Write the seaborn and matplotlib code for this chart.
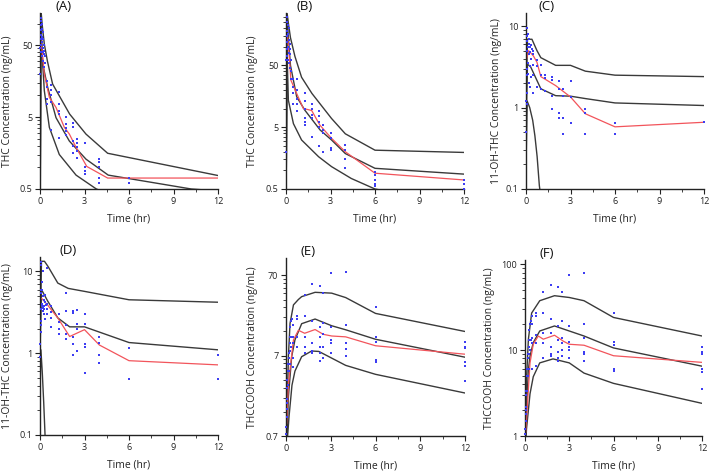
# VPC-style panels: THC, 11-OH-THC and THCCOOH concentrations over time
import pandas as pd
import seaborn as sns
import matplotlib.pyplot as plt

# ---- Panel A : THC ----
a_up_t = [0.02, 0.07, 0.15, 0.29, 0.5, 0.85, 2, 3.1, 4.56, 12]
a_up_c = [1, 150, 95, 52, 30, 14.4, 5.5, 2.9, 1.57, 0.77]
a_md_t = [0.02, 0.06, 0.18, 0.52, 1.08, 1.98, 3.1, 4.6, 10.2, 12]
a_md_c = [0.6, 110, 27.5, 12.9, 4.9, 2.32, 1.3, 0.78, 0.5, 0.47]
a_lo_t = [0.02, 0.05, 0.13, 0.29, 0.63, 1.3, 2.43, 3.8, 4.5]
a_lo_c = [0.5, 80, 42, 11.7, 3.6, 1.51, 0.78, 0.5, 0.44]
a_obs_med_t = [0.05, 0.15, 0.29, 0.63, 1.08, 1.64, 1.98, 2.43, 3.15, 4.56, 6, 12]
a_obs_med_c = [60, 40, 19.8, 9.4, 6.8, 3.6, 2.9, 1.9, 1.03, 0.71, 0.71, 0.71]
a_obs_t = [0.02, 0.03, 0.05, 0.05, 0.07, 0.08, 0.08, 0.1, 0.1, 0.1, 0.12, 0.12, 0.15,
           0.15, 0.15, 0.17, 0.17, 0.2, 0.2, 0.2, 0.25, 0.25, 0.25, 0.3, 0.33, 0.33,
           0.5, 0.5, 0.5, 0.5, 0.75, 0.75, 0.75, 0.75, 0.75,
           1.25, 1.25, 1.25, 1.25, 1.25, 1.75, 1.75, 1.75, 1.75, 1.75,
           2.25, 2.25, 2.25, 2.25, 2.25, 2.5, 2.5, 2.5, 2.5, 2.5,
           3, 3, 3, 3, 4, 4, 4, 4, 4, 6, 6]
a_obs_c = [20, 45, 60, 95, 110, 80, 40, 120, 70, 50, 100, 55, 85,
           65, 35, 75, 45, 60, 40, 30, 50, 38, 25, 42, 35, 28,
           16, 13, 9, 7.5, 14, 12, 10, 8, 3.3,
           11, 7.5, 6, 5.5, 2.6, 5, 4, 3.5, 3.2, 2.8,
           4.2, 3.6, 2.3, 2.0, 1.6, 2.5, 2.2, 1.9, 1.7, 1.35,
           2.2, 1.0, 0.9, 0.8, 1.3, 1.2, 1.0, 0.7, 0.6, 0.7, 0.6]

# ---- Panel B : THC ----
b_up_t = [0.02, 0.08, 0.15, 0.3, 0.6, 1.05, 1.75, 3.07, 4, 6, 12]
b_up_c = [1, 340, 250, 140, 70, 32, 17.5, 6.9, 3.9, 2.12, 1.95]
b_md_t = [0.02, 0.08, 0.15, 0.3, 0.72, 1.27, 2.3, 3.07, 4, 6, 12]
b_md_c = [1, 300, 150, 50, 15.5, 9.4, 4.5, 3.1, 1.87, 1.08, 0.87]
b_lo_t = [0.02, 0.06, 0.16, 0.5, 1.05, 2.2, 3.07, 4.4, 6, 7]
b_lo_c = [1, 100, 13.6, 5.7, 3.1, 1.66, 1.15, 0.74, 0.5, 0.45]
b_obs_med_t = [0.1, 0.2, 0.33, 0.72, 1.17, 1.73, 2.28, 3.07, 4, 6, 12]
b_obs_med_c = [150, 80, 28.7, 17.5, 10, 9.3, 5.4, 3.3, 2.0, 0.9, 0.7]
b_obs_t = [0.02, 0.03, 0.05, 0.05, 0.07, 0.08, 0.1, 0.1, 0.1, 0.12, 0.12, 0.15,
           0.15, 0.17, 0.17, 0.2, 0.2, 0.25, 0.25, 0.25, 0.3, 0.33, 0.33, 0.33,
           0.5, 0.5, 0.5, 0.5, 0.75, 0.75, 0.75, 0.75, 0.75,
           1.25, 1.25, 1.25, 1.25, 1.25, 1.25, 1.75, 1.75, 1.75, 1.75, 1.75,
           2.25, 2.25, 2.25, 2.25, 2.25, 2.5, 2.5, 2.5, 2.5,
           3, 3, 3, 3, 4, 4, 4, 4, 6, 6, 6, 6, 6, 12, 12, 12]
b_obs_c = [2, 60, 150, 90, 250, 120, 300, 180, 70, 220, 100, 160,
           60, 200, 80, 130, 55, 110, 75, 45, 90, 60, 40, 30,
           30, 22, 18, 12, 30, 20, 14, 12, 9,
           18, 13, 10, 7, 6, 5.5, 12, 10, 8, 7, 3.5,
           9, 7.5, 6, 5, 2.5, 5.5, 4.5, 4, 2,
           4, 3.3, 2.3, 2.1, 2.6, 2.1, 1.5, 1.1, 0.95, 0.85, 0.7, 0.6, 0.55, 0.7, 0.6, 0.5]

# ---- Panel C : 11-OH-THC ----
c_up_t = [0.02, 0.1, 0.4, 0.74, 1.0, 2, 3, 4, 6, 12]
c_up_c = [1.5, 6.9, 6.9, 5.0, 4.1, 3.3, 3.3, 2.8, 2.5, 2.4]
c_md_t = [0.02, 0.1, 0.3, 0.74, 1.0, 2, 3, 4, 6, 12]
c_md_c = [0.8, 3.4, 3.2, 2.15, 1.7, 1.4, 1.38, 1.29, 1.14, 1.06]
c_lo_t = [0.02, 0.08, 0.25, 0.45, 0.6, 0.75, 0.9, 1.0]
c_lo_c = [0.3, 1.2, 1.0, 0.7, 0.45, 0.25, 0.11, 0.08]
c_obs_med_t = [0.05, 0.18, 0.5, 0.74, 1.0, 2, 3, 4, 6, 12]
c_obs_med_c = [4.0, 5.0, 4.3, 3.6, 2.4, 1.86, 1.35, 0.84, 0.58, 0.66]
c_obs_t = [0.02, 0.03, 0.05, 0.05, 0.07, 0.08, 0.08, 0.1, 0.1, 0.1, 0.12, 0.12, 0.15,
           0.15, 0.17, 0.17, 0.2, 0.2, 0.25, 0.25, 0.25, 0.3, 0.33, 0.33, 0.33, 0.4,
           0.5, 0.5, 0.5, 0.5, 0.5, 0.75, 0.75, 0.75, 1.0, 1.0, 1.0, 1.25, 1.25, 1.25,
           1.75, 1.75, 1.75, 1.75, 2.25, 2.25, 2.25, 2.25, 2.5, 2.5, 2.5, 2.5,
           3, 3, 3, 4, 4, 4, 6, 6, 12]
c_obs_c = [0.5, 1.2, 2.5, 9.5, 1.5, 7.5, 3.0, 6.5, 5.0, 1.1, 8.0, 2.6, 5.5,
           3.5, 7.0, 2.0, 6.0, 4.5, 5.5, 3.2, 1.8, 4.8, 5.8, 4.0, 2.4, 5.2,
           5, 4.5, 3.3, 2.5, 1.5, 3.8, 3.2, 1.8, 3.3, 2.5, 1.7, 2.5, 2.3, 1.6,
           2.4, 2.2, 1.4, 0.95, 2.1, 1.7, 0.85, 0.75, 1.7, 1.4, 0.75, 0.48,
           2.1, 1.35, 0.65, 0.95, 0.85, 0.48, 0.65, 0.48, 0.66]

# ---- Panel D : 11-OH-THC ----
d_up_t = [0.02, 0.1, 0.3, 0.54, 1.2, 1.9, 3, 6, 12]
d_up_c = [2, 13.3, 13.3, 11.5, 7.2, 6.2, 5.7, 4.5, 4.2]
d_md_t = [0.02, 0.1, 0.5, 1.2, 2, 3, 6, 12]
d_md_c = [1.5, 6, 4.4, 2.7, 2.1, 2.1, 1.35, 1.1]
d_lo_t = [0.02, 0.06, 0.15, 0.25, 0.35]
d_lo_c = [0.5, 1.1, 0.6, 0.25, 0.09]
d_obs_med_t = [0.1, 0.5, 1.2, 2, 3, 4, 6, 12]
d_obs_med_c = [4.7, 3.9, 2.7, 1.6, 1.94, 1.26, 0.81, 0.72]
d_obs_t = [0.02, 0.03, 0.05, 0.05, 0.07, 0.08, 0.08, 0.1, 0.1, 0.1, 0.12, 0.12, 0.15,
           0.15, 0.17, 0.17, 0.2, 0.2, 0.25, 0.25, 0.25, 0.3, 0.33, 0.33, 0.33, 0.4,
           0.5, 0.5, 0.5, 0.5, 0.75, 0.75, 0.75, 0.75, 1.25, 1.25, 1.25, 1.25,
           1.75, 1.75, 1.75, 1.75, 1.75, 2.25, 2.25, 2.25, 2.25, 2.25,
           2.5, 2.5, 2.5, 2.5, 3, 3, 3, 3, 3, 4, 4, 4, 4, 6, 6, 12, 12]
d_obs_c = [0.9, 1.3, 2.5, 13, 1.8, 6, 3.5, 12, 5.5, 2.2, 7.5, 3.8, 6,
           4, 3.6, 10, 3.3, 5, 3.8, 3, 4.5, 3.5, 5.2, 2.6, 4.2, 3.9,
           11, 4, 3.5, 3, 3.8, 3.2, 2.7, 2.1, 3.0, 2.4, 2.0, 1.7,
           5.5, 3.3, 2.2, 1.7, 1.5, 3.3, 3.1, 1.6, 1.3, 0.95,
           3.4, 2.3, 2.0, 1.05, 3.0, 2.3, 1.3, 1.2, 0.57, 1.6, 1.35, 0.95, 0.75,
           1.15, 0.48, 0.95, 0.48]

# ---- Panel E : THCCOOH ----
e_up_t = [0.02, 0.16, 0.27, 0.5, 0.83, 1.05, 1.95, 3.06, 4, 6, 12]
e_up_c = [0.5, 6.8, 17.6, 30, 35, 38, 43, 42, 37, 23.5, 14]
e_md_t = [0.02, 0.16, 0.38, 0.6, 1.05, 1.95, 3.06, 4, 6, 12]
e_md_c = [0.4, 2.15, 6.8, 11, 17.5, 20, 16.5, 14.7, 11.2, 6.7]
e_lo_t = [0.05, 0.2, 0.4, 0.6, 1.05, 1.72, 2.2, 4, 6, 12]
e_lo_c = [0.5, 1.2, 3.0, 4.5, 6.8, 8.0, 7.9, 5.3, 4.1, 2.4]
e_obs_med_t = [0.05, 0.16, 0.5, 0.83, 1.25, 1.95, 2.5, 3.06, 4, 6, 12]
e_obs_med_c = [1.0, 3.1, 11, 14.5, 13.3, 14.8, 12.9, 12.3, 12.0, 9.3, 7.3]
e_obs_t = [0.02, 0.03, 0.05, 0.05, 0.07, 0.08, 0.1, 0.1, 0.12, 0.15, 0.15, 0.17,
           0.2, 0.2, 0.25, 0.25, 0.25, 0.3, 0.3, 0.33, 0.33, 0.4, 0.4,
           0.5, 0.5, 0.5, 0.5, 0.5, 0.75, 0.75, 0.75, 0.75,
           1.25, 1.25, 1.25, 1.25, 1.25, 1.75, 1.75, 1.75, 1.75, 1.75,
           2.25, 2.25, 2.25, 2.25, 2.25, 2.25, 2.5, 2.5, 2.5, 2.5, 2.5,
           3, 3, 3, 3, 3, 4, 4, 4, 4, 4, 6, 6, 6, 6, 6,
           12, 12, 12, 12, 12, 12]
e_obs_c = [0.75, 0.9, 1.2, 2.0, 1.5, 2.8, 3.5, 1.8, 4.5, 5.5, 3.0, 6.5,
           7.5, 4.5, 12, 8, 5.5, 16, 10, 19, 9, 20, 12,
           17, 12, 10, 6.5, 5, 22, 20, 12, 9,
           40, 22, 12, 9, 7.5, 55, 19, 10, 8, 7.5,
           52, 16, 12, 9, 7.5, 6, 42, 18, 13, 9, 6.5,
           75, 16, 11, 10, 7.5, 78, 17, 10, 8.5, 7.0, 28, 12, 10.5, 6.1, 5.8,
           10.5, 9.1, 8.7, 5.9, 5.2, 3.4]

# ---- Panel F : THCCOOH ----
f_up_t = [0.02, 0.1, 0.23, 0.45, 0.68, 1.0, 2, 3, 4, 6, 12]
f_up_c = [0.8, 4.5, 13.4, 27, 31, 37.6, 43, 41, 37.6, 24, 14.6]
f_md_t = [0.02, 0.1, 0.23, 0.34, 0.56, 1.0, 2, 3, 4, 6, 12]
f_md_c = [0.8, 2, 5.9, 8.5, 12.2, 16.7, 19.1, 16.7, 14.6, 10.6, 6.5]
f_lo_t = [0.05, 0.1, 0.34, 0.56, 1.0, 1.9, 3, 4, 6, 12]
f_lo_c = [0.8, 1.2, 3.1, 4.9, 7.1, 7.9, 7.1, 5.4, 4.1, 2.4]
f_obs_med_t = [0.05, 0.34, 0.56, 0.9, 1.24, 2, 2.6, 3, 4, 6, 12]
f_obs_med_c = [1.1, 7.1, 11.7, 14.6, 13.4, 14.9, 12.7, 11.7, 11.4, 8.6, 7.2]
f_obs_t = [0.02, 0.03, 0.05, 0.05, 0.07, 0.08, 0.1, 0.1, 0.12, 0.15, 0.15, 0.17,
           0.2, 0.2, 0.25, 0.25, 0.25, 0.3, 0.3, 0.33, 0.33, 0.4, 0.4,
           0.5, 0.5, 0.5, 0.5, 0.5, 0.75, 0.75, 0.75, 0.75, 0.75,
           1.25, 1.25, 1.25, 1.25, 1.25, 1.75, 1.75, 1.75, 1.75, 1.75, 1.75,
           2.25, 2.25, 2.25, 2.25, 2.25, 2.25, 2.5, 2.5, 2.5, 2.5, 2.5, 2.5,
           3, 3, 3, 3, 3, 3, 4, 4, 4, 4, 4, 4, 6, 6, 6, 6, 6,
           12, 12, 12, 12, 12, 12]
f_obs_c = [1.05, 1.2, 1.5, 2.2, 1.8, 3.0, 3.3, 2.0, 5, 6, 3.3, 8,
           9, 5, 13, 9, 6, 17, 11, 20, 10, 22, 13,
           25, 20, 14, 12, 6, 27, 25, 15, 12, 6.5,
           48, 27, 16, 12, 8, 58, 23, 16, 11, 9, 8.5,
           55, 19, 13, 9.5, 8, 7.5, 47, 22, 14, 12, 10, 8.5,
           74, 19, 12.5, 11, 10, 8, 78, 20, 14, 9.5, 9, 7.5, 27, 12.5, 11.5, 6, 5.7,
           11, 9.5, 9, 6, 5.5, 3.5]

panel_names = ["(A)", "(B)", "(C)", "(D)", "(E)", "(F)"]
y_labels = ["THC Concentration (ng/mL)", "THC Concentration (ng/mL)",
            "11-OH-THC Concentration (ng/mL)", "11-OH-THC Concentration (ng/mL)",
            "THCCOOH Concentration (ng/mL)", "THCCOOH Concentration (ng/mL)"]
y_major = [[0.5, 5, 50], [0.5, 5, 50], [0.1, 1, 10], [0.1, 1, 10], [0.7, 7, 70], [1, 10, 100]]
y_tick_text = [["0.5", "5", "50"], ["0.5", "5", "50"], ["0.1", "1", "10"],
               ["0.1", "1", "10"], ["0.7", "7", "70"], ["1", "10", "100"]]
y_limits = [(0.5, 140), (0.5, 350), (0.1, 14.5), (0.1, 15), (0.7, 115), (1, 112)]
x_ticks = [0, 3, 6, 9, 12]

panels = [
    (a_up_t, a_up_c, a_md_t, a_md_c, a_lo_t, a_lo_c, a_obs_med_t, a_obs_med_c, a_obs_t, a_obs_c),
    (b_up_t, b_up_c, b_md_t, b_md_c, b_lo_t, b_lo_c, b_obs_med_t, b_obs_med_c, b_obs_t, b_obs_c),
    (c_up_t, c_up_c, c_md_t, c_md_c, c_lo_t, c_lo_c, c_obs_med_t, c_obs_med_c, c_obs_t, c_obs_c),
    (d_up_t, d_up_c, d_md_t, d_md_c, d_lo_t, d_lo_c, d_obs_med_t, d_obs_med_c, d_obs_t, d_obs_c),
    (e_up_t, e_up_c, e_md_t, e_md_c, e_lo_t, e_lo_c, e_obs_med_t, e_obs_med_c, e_obs_t, e_obs_c),
    (f_up_t, f_up_c, f_md_t, f_md_c, f_lo_t, f_lo_c, f_obs_med_t, f_obs_med_c, f_obs_t, f_obs_c),
]

# axes boxes in pixels (left, top, right, bottom) of a 709x472 canvas
boxes = [(40, 13, 218, 189), (286, 13, 464, 189), (526, 13, 704, 189),
         (40, 257, 218, 435), (286, 258, 465, 436), (525, 260, 702, 436)]
ylabel_x = [-0.152, -0.157, -0.135, -0.152, -0.157, -0.169]
title_x = [0.13, 0.107, 0.118, 0.16, 0.124, 0.124]

sns.set_theme(style="ticks")
plt.rcParams['font.family'] = ['Open Sans', 'DejaVu Sans']

W, H = 709, 472
fig = plt.figure(figsize=(W / 100, H / 100), dpi=100)

for i, p in enumerate(panels):
    up_t, up_c, md_t, md_c, lo_t, lo_c, om_t, om_c, ob_t, ob_c = p
    l, t, r, b = boxes[i]
    ax = fig.add_axes([l / W, 1 - b / H, (r - l) / W, (b - t) / H])

    lines = pd.concat([
        pd.DataFrame({"time": up_t, "conc": up_c, "line": "p95"}),
        pd.DataFrame({"time": md_t, "conc": md_c, "line": "p50"}),
        pd.DataFrame({"time": lo_t, "conc": lo_c, "line": "p05"}),
    ])
    sns.lineplot(data=lines, x="time", y="conc", units="line", estimator=None,
                 color="#3a3a3a", linewidth=1.0, sort=False, ax=ax)
    sns.lineplot(x=om_t, y=om_c, color="#f2545b", linewidth=0.9, ax=ax)
    sns.scatterplot(x=ob_t, y=ob_c, color="#3d3df2", marker="s", s=4,
                    linewidth=0, clip_on=False, zorder=3, ax=ax)

    ax.set_yscale("log")
    ax.set_xlim(0, 12)
    ax.set_ylim(*y_limits[i])
    ax.set_xticks(x_ticks)
    ax.set_xticks([1.5, 4.5, 7.5, 10.5], minor=True)
    ax.set_yticks(y_major[i], y_tick_text[i])
    minors = [m * k for m in y_major[i] for k in range(2, 10)]
    ax.set_yticks([v for v in minors if v < y_limits[i][1]], minor=True)
    ax.yaxis.set_minor_formatter(plt.NullFormatter())

    ax.tick_params(which="major", length=3.5, width=0.8, labelsize=6.5, pad=2, colors="#222222")
    ax.tick_params(which="minor", length=2, width=0.6, colors="#222222")
    for s in ["left", "bottom"]:
        ax.spines[s].set_color("#222222")
        ax.spines[s].set_linewidth(1.0)
    sns.despine(ax=ax)

    ax.set_xlabel("Time (hr)", fontsize=7.5, color="#222222")
    ax.set_ylabel(y_labels[i], fontsize=7.5, color="#222222")
    ax.xaxis.set_label_coords(0.5, -0.14)
    ax.yaxis.set_label_coords(ylabel_x[i], 0.5)
    ax.text(title_x[i], 1.035, panel_names[i], transform=ax.transAxes,
            ha="center", va="center", fontsize=9.5, color="#111111")

fig.savefig("out.png", dpi=100)
